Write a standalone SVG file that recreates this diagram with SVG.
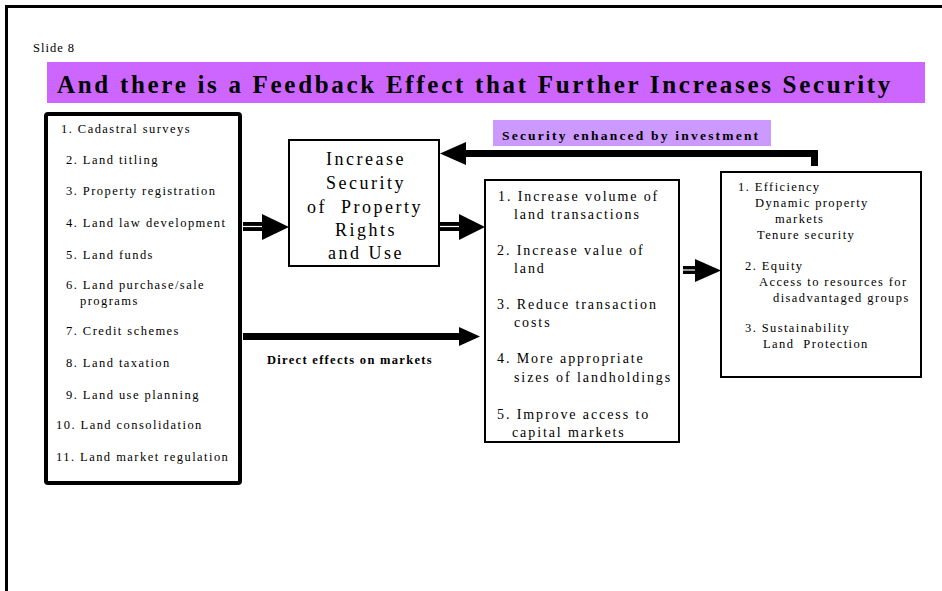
<svg xmlns="http://www.w3.org/2000/svg" width="942" height="591" viewBox="0 0 942 591">
<style>
.t{font-family:"Liberation Serif","Times New Roman",serif;fill:#000}
.li{font-size:12.5px;letter-spacing:1.45px}
.mid{font-size:18px;letter-spacing:2.5px;text-anchor:middle}
.b3{font-size:14px;letter-spacing:1.9px}
.b4{font-size:12.5px;letter-spacing:1.4px}
.box{fill:#fff;stroke:#000;stroke-width:2}
.pre{white-space:pre}
</style>
<rect width="942" height="591" fill="#fff"/>
<rect x="6.5" y="6.5" width="1000" height="700" fill="none" stroke="#000" stroke-width="3"/>
<text class="t" x="33" y="52" font-size="12.5" letter-spacing="1">Slide 8</text>
<rect x="47" y="62" width="878" height="41" fill="#CC66FF"/>
<text class="t" x="57" y="93" font-size="25" font-weight="bold" letter-spacing="2.7">And there is a Feedback Effect that Further Increases Security</text>

<g id="connectors">
<g id="c-left-mid">
<rect x="243" y="222" width="21" height="9" fill="#000"/>
<line x1="243" y1="226.5" x2="264" y2="226.5" stroke="#fff" stroke-width="1.2"/>
<path d="M262,214 L289,227 L262,240 z" fill="#000"/>
</g>
<g id="c-mid-b3">
<rect x="440" y="222" width="21" height="9" fill="#000"/>
<line x1="440" y1="226.5" x2="461" y2="226.5" stroke="#fff" stroke-width="1.2"/>
<path d="M459,214 L485,227 L459,240 z" fill="#000"/>
</g>
<g id="c-b3-b4">
<rect x="683" y="266" width="14" height="8" fill="#000"/>
<line x1="683" y1="270" x2="697" y2="270" stroke="#fff" stroke-width="1.2"/>
<path d="M695,259 L721,270.5 L695,282 z" fill="#000"/>
</g>
<g id="c-direct">
<rect x="243" y="333" width="220" height="7" fill="#000"/>
<path d="M459,327 L480,336.5 L459,346 z" fill="#000"/>
</g>
<g id="c-feedback">
<rect x="466" y="150" width="352" height="7" fill="#000"/>
<rect x="811" y="150" width="7" height="16" fill="#000"/>
<path d="M466,142 L440,153.5 L466,165 z" fill="#000"/>
</g>
</g>

<g id="label-security">
<rect x="493" y="120" width="278" height="26" fill="#CC99FF"/>
<text class="t" x="502" y="140" font-size="13.5" font-weight="bold" letter-spacing="2.2">Security enhanced by investment</text>
</g>
<text class="t" x="267" y="364" font-size="12.5" font-weight="bold" letter-spacing="1.3">Direct effects on markets</text>

<g id="node-instruments">
<rect x="46" y="114" width="194" height="369" rx="2" fill="#fff" stroke="#000" stroke-width="4"/>
<text class="t li" x="61" y="133">1. Cadastral surveys</text>
<text class="t li" x="66" y="164">2. Land titling</text>
<text class="t li" x="66" y="195">3. Property registration</text>
<text class="t li" x="66" y="227">4. Land law development</text>
<text class="t li" x="66" y="259">5. Land funds</text>
<text class="t li" x="66" y="289">6. Land purchase/sale</text>
<text class="t li" x="80" y="305">programs</text>
<text class="t li" x="66" y="335">7. Credit schemes</text>
<text class="t li" x="66" y="367">8. Land taxation</text>
<text class="t li" x="66" y="399">9. Land use planning</text>
<text class="t li" x="56" y="429">10. Land consolidation</text>
<text class="t li" x="56" y="461">11. Land market regulation</text>
</g>

<g id="node-security">
<rect class="box" x="289" y="140" width="150" height="126"/>
<text class="t mid" x="366" y="165">Increase</text>
<text class="t mid" x="366" y="189">Security</text>
<text class="t mid pre" x="365" y="213">of  Property</text>
<text class="t mid" x="366" y="236">Rights</text>
<text class="t mid" x="366" y="259">and Use</text>
</g>

<g id="node-markets">
<rect class="box" x="485" y="180" width="194" height="262"/>
<text class="t b3" x="498" y="201">1. Increase volume of</text>
<text class="t b3" x="514" y="219">land transactions</text>
<text class="t b3" x="497" y="255">2. Increase value of</text>
<text class="t b3" x="514" y="273">land</text>
<text class="t b3" x="497" y="309">3. Reduce transaction</text>
<text class="t b3" x="514" y="327">costs</text>
<text class="t b3" x="497" y="363">4. More appropriate</text>
<text class="t b3" x="514" y="382">sizes of landholdings</text>
<text class="t b3" x="497" y="419">5. Improve access to</text>
<text class="t b3" x="512" y="437">capital markets</text>
</g>

<g id="node-outcomes">
<rect class="box" x="721" y="172" width="200" height="205"/>
<text class="t b4" x="738" y="191">1. Efficiency</text>
<text class="t b4" x="755" y="207">Dynamic property</text>
<text class="t b4" x="775" y="223">markets</text>
<text class="t b4" x="757" y="239">Tenure security</text>
<text class="t b4" x="745" y="270">2. Equity</text>
<text class="t b4" x="759" y="286">Access to resources for</text>
<text class="t b4" x="773" y="302">disadvantaged groups</text>
<text class="t b4" x="745" y="332">3. Sustainability</text>
<text class="t b4 pre" x="763" y="348">Land  Protection</text>
</g>
</svg>
